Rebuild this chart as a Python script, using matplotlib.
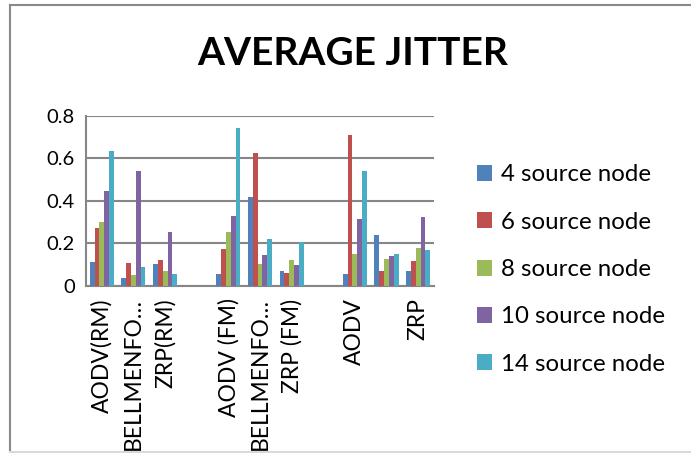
import numpy as np
import matplotlib
matplotlib.use("Agg")
import matplotlib.pyplot as plt
from matplotlib.patches import Patch
from matplotlib.lines import Line2D

plt.rcParams['font.family'] = ['Lato', 'DejaVu Sans']

categories = ["AODV(RM)", "BELLMENFO\u2026", "ZRP(RM)", "",
              "AODV (FM)", "BELLMENFO\u2026", "ZRP (FM)", "",
              "AODV", "", "ZRP"]
series_names = ["4 source node", "6 source node", "8 source node",
                "10 source node", "14 source node"]
nan = np.nan
node4 = [0.111, 0.039, 0.105, nan, 0.058, 0.420, 0.070, nan, 0.055, 0.240, 0.070]
node6 = [0.274, 0.108, 0.121, nan, 0.174, 0.628, 0.063, nan, 0.712, 0.069, 0.117]
node8 = [0.302, 0.052, 0.070, nan, 0.254, 0.105, 0.122, nan, 0.150, 0.125, 0.180]
node10 = [0.448, 0.539, 0.255, nan, 0.327, 0.147, 0.097, nan, 0.315, 0.141, 0.324]
node14 = [0.634, 0.089, 0.058, nan, 0.744, 0.222, 0.207, nan, 0.540, 0.150, 0.171]
colors = ["#4F81BD", "#C0504D", "#9BBB59", "#8064A2", "#4BACC6"]

series = [node4, node6, node8, node10, node14]

fig = plt.figure(figsize=(6.91, 4.53), dpi=100)
ax = fig.add_axes([0.1245, 0.3687, 0.5035, 0.3753])

x = np.arange(len(categories))
w = 0.152
for i, vals in enumerate(series):
    ax.bar(x + (i - 2) * w, vals, width=w, color=colors[i], zorder=3)

ax.set_xlim(-0.5, len(categories) - 0.5)
ax.set_ylim(0, 0.8)
ax.set_yticks([0, 0.2, 0.4, 0.6, 0.8])
ax.set_yticklabels(["0", "0.2", "0.4", "0.6", "0.8"], fontsize=14.5)
ax.set_xticks(x)
ax.set_xticklabels(categories, rotation=90, fontsize=16.5)
ax.tick_params(axis='both', length=0, pad=8)
ax.tick_params(axis='x', pad=9)
ax.grid(axis='y', color="#868686", linewidth=1.5, zorder=0)
for s in ["top", "right"]:
    ax.spines[s].set_visible(False)
for s in ["left", "bottom"]:
    ax.spines[s].set_color("#868686")
    ax.spines[s].set_linewidth(1.5)

fig.text(0.51, 0.881, "AVERAGE JITTER", fontsize=28, fontweight="bold",
         ha="center", va="center")

handles = [Patch(facecolor=c, edgecolor="none") for c in colors]
fig.legend(handles, series_names, loc="center left",
           bbox_to_anchor=(0.69, 0.405), frameon=False, fontsize=17.3,
           handlelength=0.65, handleheight=0.65, handletextpad=0.35,
           labelspacing=1.1, borderaxespad=0, borderpad=0)

# chart border
fig.add_artist(Line2D([10 / 691, 10 / 691], [0.003, 1 - 4.5 / 453],
                      color="#8a8a8a", linewidth=1.5))
fig.add_artist(Line2D([10 / 691, 1], [1 - 4.5 / 453, 1 - 4.5 / 453],
                      color="#8a8a8a", linewidth=1.5))
fig.add_artist(Line2D([10 / 691, 1], [0.003, 0.003],
                      color="#d9d9d9", linewidth=1.5))

fig.savefig("out.png", dpi=100)
